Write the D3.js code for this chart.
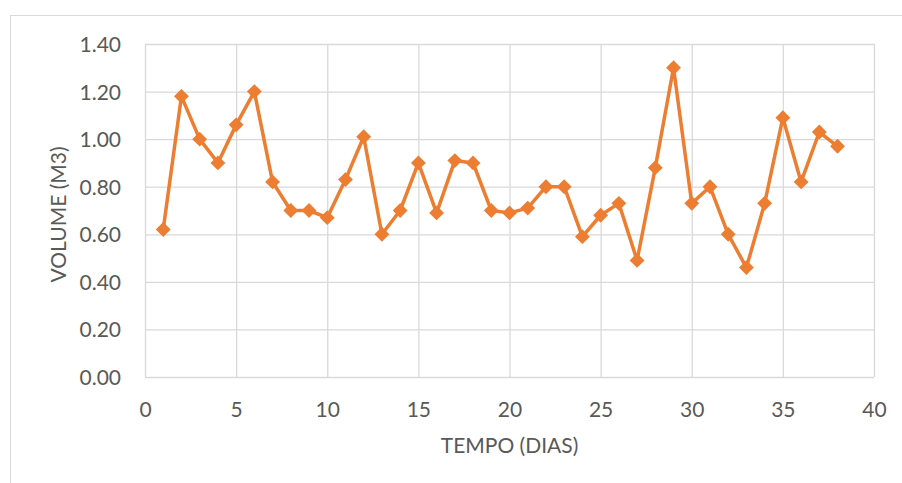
<!DOCTYPE html>
<html>
<head>
<meta charset="utf-8">
<script src="https://cdn.jsdelivr.net/npm/d3@7"></script>
<style>
    body { margin: 0; background: #fff; }
    svg { display: block; }
    .tick text { font-family: Lato, "Open Sans", sans-serif; font-size: 21px; fill: #595959; }
    .axis-title { font-family: Lato, "Open Sans", sans-serif; font-size: 21px; fill: #595959; }
</style>
</head>
<body>
<div class="panel"></div>
<script>

// Data ////////////////////////////////////

const days = [1, 2, 3, 4, 5, 6, 7, 8, 9, 10, 11, 12, 13, 14, 15, 16, 17, 18, 19,
    20, 21, 22, 23, 24, 25, 26, 27, 28, 29, 30, 31, 32, 33, 34, 35, 36, 37, 38];

const volume = [0.62, 1.18, 1.00, 0.90, 1.06, 1.20, 0.82, 0.70, 0.70, 0.67,
    0.83, 1.01, 0.60, 0.70, 0.90, 0.69, 0.91, 0.90, 0.70, 0.69,
    0.71, 0.80, 0.80, 0.59, 0.68, 0.73, 0.49, 0.88, 1.30, 0.73,
    0.80, 0.60, 0.46, 0.73, 1.09, 0.82, 1.03, 0.97];

const xTicks = [0, 5, 10, 15, 20, 25, 30, 35, 40];
const yTicks = [0, 0.2, 0.4, 0.6, 0.8, 1.0, 1.2, 1.4];

const xTitle = "TEMPO (DIAS)";
const yTitle = "VOLUME (M3)";

// Chart ////////////////////////////////////

const dim = { width: 902, height: 483 };
const margin = { top: 44, right: 28, bottom: 106, left: 145 };

const svg = d3.select(".panel").append("svg")
    .attr("width", dim.width)
    .attr("height", dim.height);

// chart frame
svg.append("rect")
    .attr("x", 10.5)
    .attr("y", 15.5)
    .attr("width", dim.width + 20)
    .attr("height", dim.height + 20)
    .attr("fill", "none")
    .attr("stroke", "#d9d9d9")
    .attr("stroke-width", 1);

const x = d3.scaleLinear()
    .domain([0, 40])
    .range([margin.left, dim.width - margin.right]);

const y = d3.scaleLinear()
    .domain([0, 1.4])
    .range([dim.height - margin.bottom, margin.top]);

// Grid

svg.append("g")
    .attr("class", "grid-y")
    .attr("transform", `translate(${ margin.left }, 0)`)
    .call(d3.axisLeft(y)
        .tickValues(yTicks)
        .tickSize(-(x.range()[1] - x.range()[0]))
        .tickFormat(d => d.toFixed(2))
        .tickPadding(24))
    .call(g => g.select(".domain").remove())
    .call(g => g.selectAll(".tick line").attr("stroke", "#d9d9d9").attr("stroke-width", 1.3))
    .call(g => g.selectAll(".tick text").attr("dy", "0.36em"));

svg.append("g")
    .attr("class", "grid-x")
    .attr("transform", `translate(0, ${ y(0) })`)
    .call(d3.axisBottom(x)
        .tickValues(xTicks)
        .tickSize(-(y.range()[0] - y.range()[1]))
        .tickPadding(32))
    .call(g => g.select(".domain").remove())
    .call(g => g.selectAll(".tick line").attr("stroke", "#d9d9d9").attr("stroke-width", 1.3))
    .call(g => g.selectAll(".tick text").attr("dy", "0.36em"));

// Titles

svg.append("text")
    .attr("class", "axis-title")
    .attr("x", (x.range()[0] + x.range()[1]) / 2)
    .attr("y", 446)
    .attr("dy", "0.35em")
    .attr("text-anchor", "middle")
    .text(xTitle);

svg.append("text")
    .attr("class", "axis-title")
    .attr("transform", `translate(59, ${ (y.range()[0] + y.range()[1]) / 2 + 4 }) rotate(-90)`)
    .attr("dy", "0.35em")
    .attr("text-anchor", "middle")
    .text(yTitle);

// Series

const points = days.map((d, i) => ({ t: d, v: volume[i] }));

const line = d3.line()
    .x(d => x(d.t))
    .y(d => y(d.v));

svg.append("path")
    .datum(points)
    .attr("fill", "none")
    .attr("stroke", "#ed7d31")
    .attr("stroke-width", 3.5)
    .attr("stroke-linejoin", "round")
    .attr("d", line);

svg.append("g")
    .attr("class", "markers")
    .selectAll("path")
    .data(points)
    .join("path")
    .attr("d", d3.symbol(d3.symbolSquare, 110))
    .attr("transform", d => `translate(${ x(d.t) }, ${ y(d.v) }) rotate(45)`)
    .attr("fill", "#ed7d31");

</script>
</body>
</html>
